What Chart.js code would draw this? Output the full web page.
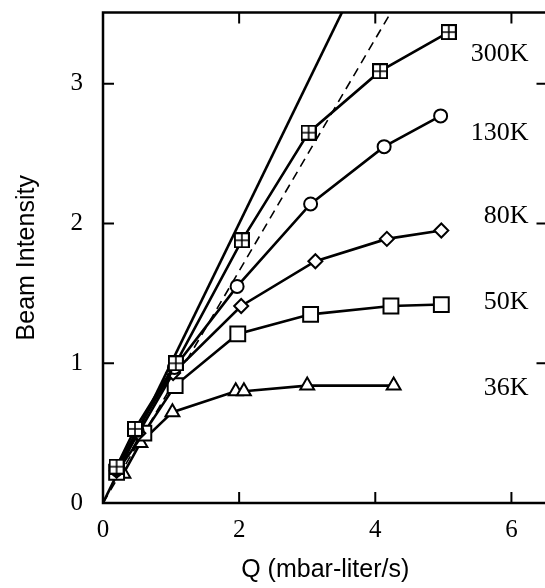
<!DOCTYPE html>
<html>
<head>
<meta charset="utf-8">
<script src="https://cdn.jsdelivr.net/npm/chart.js@4.4.1/dist/chart.umd.min.js"></script>
<style>
  html, body { margin: 0; padding: 0; background: #fff; overflow: hidden; }
  #wrap { width: 545px; height: 588px; overflow: hidden; }
</style>
</head>
<body>
<div id="wrap"><canvas id="beamChart" width="560" height="588"></canvas></div>
<script>
// values
const q300 = [0.2, 0.47, 1.07, 2.04, 3.02, 4.07, 5.08];
const b300 = [0.26, 0.53, 1.0, 1.88, 2.65, 3.09, 3.37];

const q130 = [0.2, 0.5, 1.05, 1.97, 3.05, 4.13, 4.96];
const b130 = [0.24, 0.52, 0.97, 1.55, 2.14, 2.55, 2.77];

const q80 = [0.2, 0.52, 1.03, 2.03, 3.12, 4.17, 4.97];
const b80 = [0.23, 0.5, 0.93, 1.41, 1.73, 1.89, 1.95];

const q50 = [0.2, 0.6, 1.06, 1.98, 3.05, 4.23, 4.97];
const b50 = [0.22, 0.5, 0.84, 1.21, 1.35, 1.41, 1.42];

const q36 = [0.3, 0.55, 1.02, 1.95, 2.07, 3.0, 4.27];
const b36 = [0.21, 0.43, 0.65, 0.8, 0.8, 0.84, 0.84];

// straight reference lines through the origin
const qSolid = [0, 3.6];
const bSolid = [0, 3.6];
const qDashed = [0, 4.3];
const bDashed = [0, 3.57];

const seriesLabels = ["300K", "130K", "80K", "50K", "36K"];
const labelLevels = [3.21, 2.65, 2.05, 1.44, 0.82];
const labelQ = 6.25;

const xTicks = [0, 2, 4, 6];
const yTicks = [0, 1, 2, 3];

function pts(xs, ys) {
  return xs.map((x, i) => ({ x: x, y: ys[i] }));
}

// square with a cross inside, for the 300K points
function crossSquare() {
  const c = document.createElement("canvas");
  c.width = 16;
  c.height = 16;
  const g = c.getContext("2d");
  g.fillStyle = "#fff";
  g.fillRect(1, 1, 14, 14);
  g.strokeStyle = "#000";
  g.lineWidth = 2;
  g.strokeRect(1, 1, 14, 14);
  g.lineWidth = 1.6;
  g.beginPath();
  g.moveTo(8, 1); g.lineTo(8, 15);
  g.moveTo(1, 8); g.lineTo(15, 8);
  g.stroke();
  return c;
}

function series(data, style, radius) {
  return {
    data: data,
    showLine: true,
    borderColor: "#000",
    borderWidth: 2.6,
    pointStyle: style,
    pointRadius: radius,
    pointBorderWidth: 2,
    pointBorderColor: "#000",
    pointBackgroundColor: "#fff",
  };
}

// frame, inward ticks and the temperature labels
const framePlugin = {
  id: "frame",
  afterDatasetsDraw(chart) {
    const { ctx, chartArea: a, scales } = chart;
    const xs = scales.x, ys = scales.y;
    ctx.save();
    ctx.strokeStyle = "#000";
    ctx.lineWidth = 2.5;
    ctx.strokeRect(a.left, a.top, a.right - a.left, a.bottom - a.top);
    ctx.lineWidth = 2;
    ctx.beginPath();
    xTicks.slice(1).forEach((v) => {
      const px = xs.getPixelForValue(v);
      ctx.moveTo(px, a.bottom); ctx.lineTo(px, a.bottom - 11);
      ctx.moveTo(px, a.top); ctx.lineTo(px, a.top + 11);
    });
    yTicks.slice(1).forEach((v) => {
      const py = ys.getPixelForValue(v);
      ctx.moveTo(a.left, py); ctx.lineTo(a.left + 11, py);
      ctx.moveTo(a.right, py); ctx.lineTo(a.right - 11, py);
    });
    ctx.stroke();

    ctx.fillStyle = "#000";
    ctx.font = "26px 'Liberation Serif'";
    ctx.textAlign = "right";
    ctx.textBaseline = "middle";
    seriesLabels.forEach((t, i) => {
      ctx.fillText(t, xs.getPixelForValue(labelQ), ys.getPixelForValue(labelLevels[i]));
    });
    ctx.restore();
  },
};

function noPad(s) {
  s.paddingTop = 0;
  s.paddingBottom = 0;
  s.paddingLeft = 0;
  s.paddingRight = 0;
}

const ctx = document.getElementById("beamChart").getContext("2d");
new Chart(ctx, {
  type: "scatter",
  data: {
    datasets: [
      series(pts(q300, b300), crossSquare(), 8),
      series(pts(q130, b130), "circle", 6.5),
      series(pts(q80, b80), "rectRot", 7),
      series(pts(q50, b50), "rect", 10.5),
      series(pts(q36, b36), "triangle", 8),
      {
        data: pts(qSolid, bSolid),
        showLine: true,
        borderColor: "#000",
        borderWidth: 2.6,
        pointRadius: 0,
      },
      {
        data: pts(qDashed, bDashed),
        showLine: true,
        borderColor: "#000",
        borderWidth: 1.6,
        borderDash: [9, 6],
        pointRadius: 0,
      },
    ],
  },
  options: {
    responsive: false,
    animation: false,
    devicePixelRatio: 1,
    layout: { padding: { left: 0, top: 7, right: 9, bottom: 0 } },
    plugins: { legend: { display: false }, tooltip: { enabled: false } },
    scales: {
      x: {
        type: "linear",
        min: 0,
        max: 6.53,
        afterFit: (s) => { s.height = 85; noPad(s); },
        afterBuildTicks: (s) => { s.ticks = xTicks.map((v) => ({ value: v })); },
        grid: { display: false, drawTicks: false },
        border: { display: false },
        ticks: {
          color: "#000",
          padding: 12,
          font: { family: "'Liberation Serif'", size: 25 },
        },
        title: {
          display: true,
          text: "Q (mbar-liter/s)",
          color: "#000",
          padding: { top: 0, bottom: 3 },
          font: { family: "'Liberation Sans'", size: 25 },
        },
      },
      y: {
        type: "linear",
        min: 0,
        max: 3.51,
        afterFit: (s) => { s.width = 103; noPad(s); },
        afterBuildTicks: (s) => { s.ticks = yTicks.map((v) => ({ value: v })); },
        grid: { display: false, drawTicks: false },
        border: { display: false },
        ticks: {
          color: "#000",
          padding: 20,
          font: { family: "'Liberation Serif'", size: 25 },
        },
        title: {
          display: true,
          text: "Beam Intensity",
          color: "#000",
          padding: { top: 12, bottom: 0 },
          font: { family: "'Liberation Sans'", size: 25 },
        },
      },
    },
  },
  plugins: [framePlugin],
});
</script>
</body>
</html>
